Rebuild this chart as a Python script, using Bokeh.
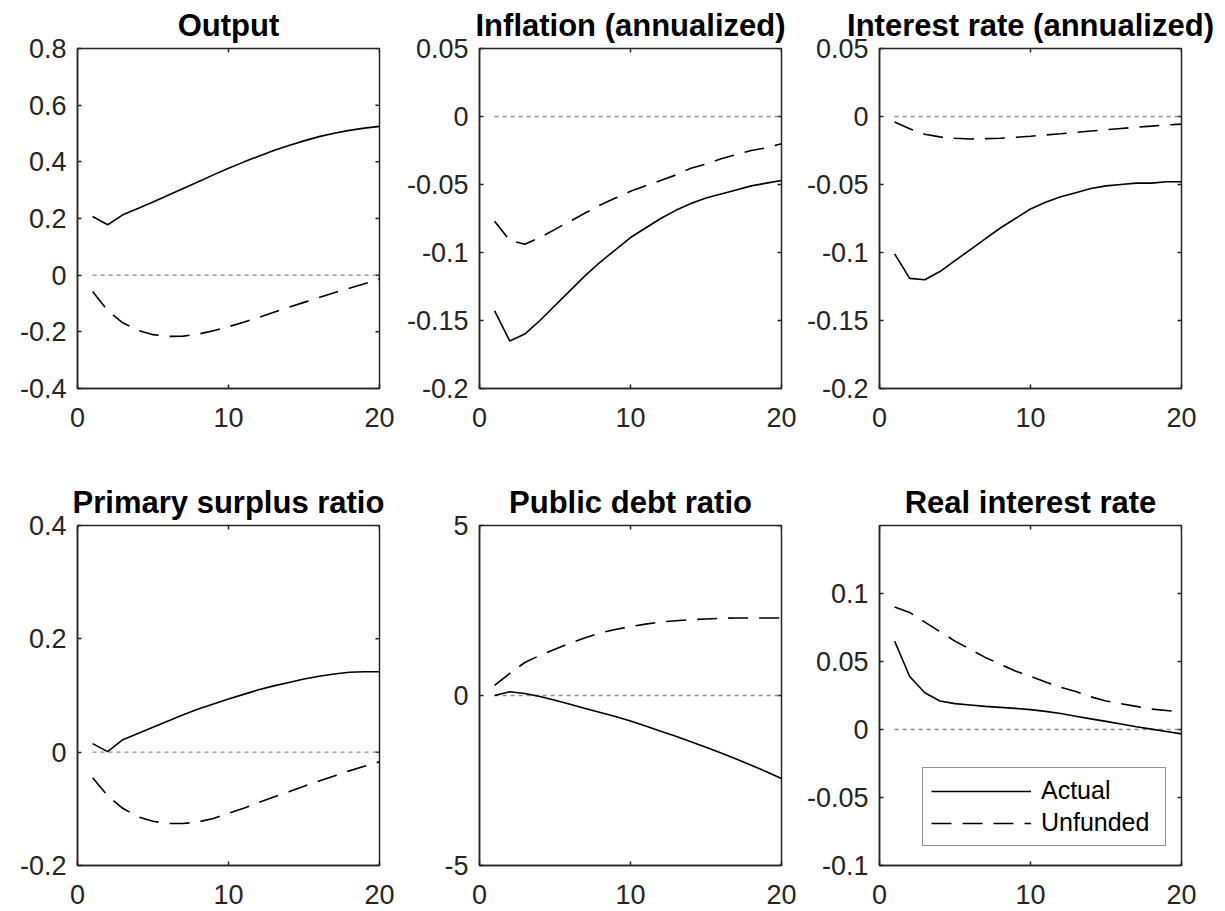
import math
from bokeh.plotting import figure
from bokeh.models import FixedTicker, Range1d, Legend, LegendItem
from bokeh.layouts import row, column
from bokeh.embed import file_html
from bokeh.resources import INLINE

# ---------------- data ----------------
periods = list(range(1, 21))
zero_line = [0.0] * len(periods)

output_actual = [0.207, 0.178, 0.213, 0.235, 0.258, 0.282, 0.306, 0.330, 0.354, 0.377,
                 0.399, 0.420, 0.440, 0.458, 0.474, 0.489, 0.501, 0.511, 0.519, 0.525]
output_unfunded = [-0.058, -0.125, -0.168, -0.195, -0.210, -0.216, -0.215, -0.208, -0.196, -0.182,
                   -0.166, -0.149, -0.131, -0.113, -0.096, -0.079, -0.062, -0.046, -0.030, -0.014]

inflation_actual = [-0.143, -0.165, -0.160, -0.150, -0.139, -0.128, -0.117, -0.107, -0.098, -0.089,
                    -0.082, -0.075, -0.069, -0.064, -0.060, -0.057, -0.054, -0.051, -0.049, -0.047]
inflation_unfunded = [-0.077, -0.091, -0.094, -0.089, -0.083, -0.077, -0.071, -0.065, -0.060, -0.055,
                      -0.051, -0.047, -0.043, -0.038, -0.035, -0.031, -0.028, -0.025, -0.023, -0.020]

interest_actual = [-0.101, -0.119, -0.120, -0.114, -0.106, -0.098, -0.090, -0.082, -0.075, -0.068,
                   -0.063, -0.059, -0.056, -0.053, -0.051, -0.050, -0.049, -0.049, -0.048, -0.048]
interest_unfunded = [-0.004, -0.009, -0.013, -0.015, -0.016, -0.0165, -0.0163, -0.016, -0.0153, -0.0145,
                     -0.0136, -0.0127, -0.0117, -0.0107, -0.0097, -0.0088, -0.0079, -0.0071, -0.0063, -0.0056]

surplus_actual = [0.015, 0.001, 0.022, 0.033, 0.044, 0.055, 0.066, 0.076, 0.085, 0.094,
                  0.102, 0.110, 0.117, 0.123, 0.129, 0.134, 0.138, 0.141, 0.142, 0.142]
surplus_unfunded = [-0.045, -0.077, -0.099, -0.114, -0.122, -0.126, -0.126, -0.123, -0.117, -0.108,
                    -0.099, -0.089, -0.079, -0.070, -0.060, -0.051, -0.042, -0.033, -0.025, -0.017]

debt_actual = [0.0, 0.11, 0.06, -0.03, -0.14, -0.26, -0.38, -0.50, -0.62, -0.75,
               -0.90, -1.05, -1.20, -1.36, -1.52, -1.69, -1.87, -2.05, -2.24, -2.44]
debt_unfunded = [0.30, 0.65, 0.97, 1.18, 1.36, 1.54, 1.70, 1.84, 1.94, 2.03,
                 2.10, 2.16, 2.20, 2.23, 2.25, 2.27, 2.28, 2.28, 2.28, 2.28]

real_actual = [0.065, 0.039, 0.027, 0.021, 0.019, 0.018, 0.017, 0.0163, 0.0155, 0.0146,
               0.0133, 0.0118, 0.0098, 0.0078, 0.0060, 0.0041, 0.0020, 0.0003, -0.0015, -0.0032]
real_unfunded = [0.090, 0.086, 0.079, 0.072, 0.065, 0.059, 0.053, 0.048, 0.043, 0.039,
                 0.035, 0.031, 0.028, 0.024, 0.021, 0.019, 0.017, 0.015, 0.014, 0.013]

titles = ["Output", "Inflation (annualized)", "Interest rate (annualized)",
          "Primary surplus ratio", "Public debt ratio", "Real interest rate"]
series_labels = ["Actual", "Unfunded"]

x_limits = (0, 20)
x_ticks = [0, 10, 20]
x_tick_labels = ["0", "10", "20"]

y_limits = [(-0.4, 0.8), (-0.2, 0.05), (-0.2, 0.05), (-0.2, 0.4), (-5, 5), (-0.1, 0.15)]
y_ticks = [
    [-0.4, -0.2, 0, 0.2, 0.4, 0.6, 0.8],
    [-0.2, -0.15, -0.1, -0.05, 0, 0.05],
    [-0.2, -0.15, -0.1, -0.05, 0, 0.05],
    [-0.2, 0, 0.2, 0.4],
    [-5, 0, 5],
    [-0.1, -0.05, 0, 0.05, 0.1],
]
y_tick_labels = [
    ["-0.4", "-0.2", "0", "0.2", "0.4", "0.6", "0.8"],
    ["-0.2", "-0.15", "-0.1", "-0.05", "0", "0.05"],
    ["-0.2", "-0.15", "-0.1", "-0.05", "0", "0.05"],
    ["-0.2", "0", "0.2", "0.4"],
    ["-5", "0", "5"],
    ["-0.1", "-0.05", "0", "0.05", "0.1"],
]
actual_series = [output_actual, inflation_actual, interest_actual, surplus_actual, debt_actual, real_actual]
unfunded_series = [output_unfunded, inflation_unfunded, interest_unfunded,
                   surplus_unfunded, debt_unfunded, real_unfunded]

# ---------------- style ----------------
FONT = "Liberation Sans"
AX = "#262626"
TICK_FS = "27px"
TITLE_FS = "31px"

col_left = [77, 84, 82]
col_right = [16, 16, 39]
row_top = [47, 58]
row_bottom = [79, 45]
frame_h = [340, 340]


def make_panel(i):
    r, c = divmod(i, 3)
    lo, hi = y_limits[i]
    p = figure(
        frame_width=302, frame_height=frame_h[r],
        x_range=Range1d(*x_limits), y_range=Range1d(lo, hi),
        min_border_left=col_left[c], min_border_right=col_right[c],
        min_border_top=row_top[r], min_border_bottom=row_bottom[r],
        toolbar_location=None, output_backend="svg",
        title=titles[i],
        background_fill_color="white", border_fill_color="white",
    )
    p.outline_line_color = AX
    p.outline_line_width = 1.5
    p.grid.visible = False
    p.title.text_font = FONT
    p.title.text_font_size = TITLE_FS
    p.title.text_font_style = "bold"
    p.title.text_color = "#000000"
    p.title.align = "center"
    p.title.standoff = 11

    for ax, ticks, labels in ((p.xaxis[0], x_ticks, x_tick_labels),
                              (p.yaxis[0], y_ticks[i], y_tick_labels[i])):
        ax.ticker = FixedTicker(ticks=ticks)
        ax.major_label_overrides = {t: l for t, l in zip(ticks, labels)}
        ax.major_label_text_font = FONT
        ax.major_label_text_font_size = TICK_FS
        ax.major_label_text_color = AX
        ax.axis_line_color = AX
        ax.axis_line_width = 1.5
        ax.major_tick_line_color = AX
        ax.major_tick_line_width = 1.5
        ax.major_tick_in = 4
        ax.major_tick_out = 0
        ax.minor_tick_in = 0
        ax.minor_tick_out = 0
    p.xaxis.major_label_standoff = 19
    p.yaxis.major_label_standoff = 11

    # mirrored inward ticks on the top and right edges (box on); half outside the frame is clipped
    p.scatter(x_ticks, [hi] * len(x_ticks), marker="dash", size=8, angle=math.pi / 2,
              line_color=AX, line_width=1.5)
    p.scatter([x_limits[1]] * len(y_ticks[i]), y_ticks[i], marker="dash", size=8,
              line_color=AX, line_width=1.5)

    p.line(periods, zero_line, line_color="#8f8f8f", line_width=1.3, line_dash="4 4")
    ra = p.line(periods, actual_series[i], line_color="#000000", line_width=1.6)
    ru = p.line(periods, unfunded_series[i], line_color="#000000", line_width=1.6, line_dash="20 11")

    if i == 5:
        leg = Legend(items=[LegendItem(label=series_labels[0], renderers=[ra]),
                            LegendItem(label=series_labels[1], renderers=[ru])],
                     location=(43, 19), margin=0, padding=8, spacing=3,
                     glyph_width=100, glyph_height=26, label_height=26, label_width=116,
                     label_standoff=10, label_text_font=FONT, label_text_font_size="25px",
                     label_text_color="#000000", border_line_color=AX, border_line_width=1.2,
                     background_fill_color="white", background_fill_alpha=1.0)
        p.add_layout(leg, "center")
    return p


panels = [make_panel(i) for i in range(6)]
layout = column(row(*panels[:3], spacing=0), row(*panels[3:], spacing=0), spacing=0)

open("out.html", "w").write(file_html(layout, INLINE))
